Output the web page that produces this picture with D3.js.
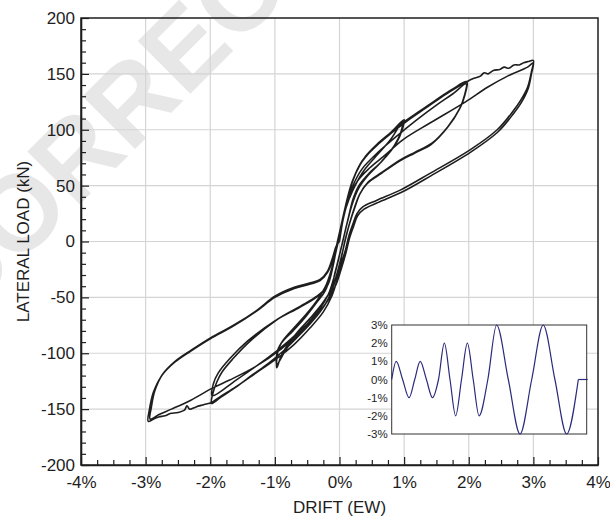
<!DOCTYPE html>
<html><head><meta charset="utf-8">
<script src="https://cdn.jsdelivr.net/npm/d3@7"></script>
<style>
html,body{margin:0;padding:0;background:#fff;}
svg{display:block;font-family:"Liberation Sans",Arial,Helvetica,sans-serif;}
</style></head><body>
<svg id="chart" width="610" height="520"></svg>
<script>
// ---------- DATA ----------
const xTicks = [-4,-3,-2,-1,0,1,2,3,4];            // drift (%)
const yTicks = [-200,-150,-100,-50,0,50,100,150,200]; // load (kN)
const insetTicks = [3,2,1,0,-1,-2,-3];              // drift (%)

// hysteresis half-cycles [drift %, load kN]
const toPlus1a = [[0,0],[0.04,15],[0.10,32],[0.17,48],[0.26,62],[0.40,76],[0.58,87],[0.80,98],[1.00,109]];
const toMinus1a = [[0.97,100],[0.88,88],[0.66,72],[0.44,60],[0.30,50],[0.21,38],[0.14,22],[0.07,5],[0.00,-12],[-0.07,-28],[-0.14,-44],[-0.30,-58],[-0.46,-69],[-0.62,-79],[-0.77,-90],[-0.90,-102],[-0.97,-113]];
const toPlus1b = [[-0.96,-100],[-0.90,-91],[-0.72,-80],[-0.52,-67],[-0.36,-55],[-0.22,-44],[-0.12,-26],[-0.05,-8],[0.02,10],[0.10,30],[0.20,45],[0.36,62],[0.56,76],[0.80,92],[0.98,108]];
const toMinus1b = [[0.95,98],[0.85,86],[0.64,71],[0.44,59],[0.30,48],[0.20,34],[0.12,17],[0.05,0],[-0.02,-17],[-0.09,-33],[-0.17,-47],[-0.30,-60],[-0.47,-72],[-0.65,-84],[-0.82,-96],[-0.97,-110]];
const toPlus2a = [[-0.96,-98],[-0.88,-89],[-0.70,-77],[-0.50,-64],[-0.34,-52],[-0.20,-38],[-0.10,-20],[-0.03,-2],[0.04,17],[0.11,36],[0.20,54],[0.35,72],[0.58,86],[0.80,97],[1.02,108],[1.25,117],[1.50,127],[1.74,136],[1.97,143]];
const toMinus2a = [[1.94,131],[1.87,120],[1.68,103],[1.43,88],[1.17,80],[0.94,73],[0.66,62],[0.44,53],[0.32,43],[0.24,31],[0.16,17],[0.10,4],[0.04,-11],[-0.03,-27],[-0.10,-40],[-0.18,-52],[-0.30,-63],[-0.46,-74],[-0.66,-86],[-0.87,-98],[-1.10,-109],[-1.34,-119],[-1.62,-131],[-1.85,-140],[-1.98,-145]];
const toPlus2b = [[-1.96,-136],[-1.90,-126],[-1.82,-117],[-1.65,-105],[-1.40,-90],[-0.97,-70],[-0.61,-58],[-0.35,-49],[-0.19,-40],[-0.10,-22],[-0.04,-4],[0.03,14],[0.10,31],[0.20,49],[0.35,65],[0.60,80],[0.90,95],[1.20,109],[1.50,122],[1.75,132],[1.96,141]];
const toMinus2b = [[1.93,130],[1.86,119],[1.67,102],[1.42,87],[1.16,79],[0.93,72],[0.65,61],[0.43,52],[0.31,42],[0.23,30],[0.15,15],[0.09,2],[0.03,-14],[-0.04,-30],[-0.12,-44],[-0.22,-56],[-0.40,-68],[-0.65,-82],[-0.95,-97],[-1.25,-110],[-1.60,-124],[-1.97,-138]];
const toPlus3a = [[-1.95,-127],[-1.88,-118],[-1.70,-105],[-1.42,-89],[-1.00,-71],[-0.62,-59],[-0.36,-50],[-0.20,-41],[-0.11,-23],[-0.05,-5],[0.02,13],[0.09,31],[0.18,50],[0.31,68],[0.52,83],[0.78,96],[1.05,108],[1.35,120],[1.65,132],[1.97,143],[2.08,146],[2.18,148],[2.24,151],[2.30,150],[2.38,153],[2.48,154],[2.55,156],[2.62,155],[2.70,158],[2.78,158],[2.85,160],[2.92,161],[3.00,162]];
const toMinus3a = [[2.97,152],[2.91,138],[2.80,126],[2.69,117],[2.44,100],[2.02,82],[1.40,61],[0.94,46],[0.58,37],[0.36,31],[0.27,25],[0.21,16],[0.15,6],[0.09,-8],[0.02,-21],[-0.04,-35],[-0.12,-49],[-0.25,-63],[-0.45,-77],[-0.70,-92],[-1.00,-106],[-1.30,-118],[-1.60,-130],[-1.85,-139],[-1.98,-144],[-2.10,-146],[-2.22,-148],[-2.32,-150],[-2.36,-147],[-2.40,-151],[-2.50,-153],[-2.62,-154],[-2.70,-156],[-2.80,-157],[-2.88,-159],[-2.96,-161]];
const toPlus3b = [[-2.94,-150],[-2.88,-135],[-2.75,-120],[-2.55,-108],[-2.30,-98],[-2.00,-87],[-1.65,-76],[-1.30,-63],[-1.00,-50],[-0.70,-42],[-0.45,-38],[-0.30,-35],[-0.19,-28],[-0.10,-16],[-0.03,0],[0.04,18],[0.13,37],[0.29,55],[0.47,66],[0.70,77],[0.98,91],[1.40,106],[1.95,125],[2.29,138],[2.60,148],[2.91,156],[3.00,160]];
const toMinus3b = [[2.97,150],[2.92,137],[2.81,124],[2.70,115],[2.45,98],[2.03,80],[1.42,59],[0.96,44],[0.60,35],[0.38,29],[0.28,23],[0.22,14],[0.16,4],[0.10,-10],[0.03,-24],[-0.05,-38],[-0.15,-50],[-0.30,-62],[-0.55,-78],[-0.90,-96],[-1.30,-112],[-1.70,-124],[-1.96,-131],[-2.30,-142],[-2.60,-150],[-2.80,-155],[-2.93,-159]];
const toEnd = [[-2.91,-148],[-2.86,-134],[-2.74,-119],[-2.54,-107],[-2.29,-97],[-1.99,-86],[-1.64,-75],[-1.29,-62],[-1.00,-49],[-0.70,-41],[-0.45,-37],[-0.30,-34],[-0.19,-27],[-0.11,-15],[-0.05,-4],[0.00,0]];

// inset loading protocol [time step, drift %]
const insetWave = [[0,0],[2.3,1],[5.6,0],[8.9,-1],[11.8,0],[14.6,1],[17.8,0],[20.9,-1],[24,0],[27,2],[29.9,0],[32.8,-2],[35.8,0],[38.8,2],[41.8,0],[44.8,-2],[49.3,0],[53.8,3],[59.8,0],[65.8,-3],[71.8,0],[77.7,3],[83.7,0],[89.7,-3],[95.7,0]];
const insetTail = [[95.7,0],[100.5,0]];

// ---------- CHART ----------
const svg = d3.select("#chart");
const m = {left:81, right:598, top:18, bottom:465};
const x = d3.scaleLinear().domain([-4,4]).range([m.left,m.right]);
const y = d3.scaleLinear().domain([-200,200]).range([m.bottom,m.top]);
const ink = "#1e1e1e";

// watermark
svg.append("text")
  .attr("transform","translate(-150,434) rotate(-45)")
  .attr("font-size",108).attr("font-weight","bold")
  .attr("fill","#e7e7e7").text("UNCORRECTED PROOF");

// grid
const grid = svg.append("g").attr("stroke","#d4d4d4").attr("stroke-width",1.2);
grid.selectAll("line.v").data(xTicks.filter(d=>d>-4&&d<4)).join("line")
  .attr("x1",d=>x(d)).attr("x2",d=>x(d)).attr("y1",m.top).attr("y2",m.bottom);
grid.selectAll("line.h").data(yTicks.filter(d=>d>-200&&d<200)).join("line")
  .attr("class","h").attr("y1",d=>y(d)).attr("y2",d=>y(d)).attr("x1",m.left).attr("x2",m.right);

// hysteresis curve
const hysteresis = [toPlus1a,toMinus1a,toPlus1b,toMinus1b,toPlus2a,toMinus2a,toPlus2b,toMinus2b,toPlus3a,toMinus3a,toPlus3b,toMinus3b,toEnd].flat();
const line = d3.line().x(d=>x(d[0])).y(d=>y(d[1])).curve(d3.curveCatmullRom.alpha(0.5));
svg.append("path").datum(hysteresis).attr("d",line)
  .attr("fill","none").attr("stroke",ink).attr("stroke-width",1.6).attr("stroke-linejoin","round");

// axes
const fs = 17;
const xMinor = d3.range(-4,4.001,0.25).filter(d=>Math.abs(d-Math.round(d))>1e-6);
const yMinor = d3.range(-200,201,10).filter(d=>d%50!==0);
const gxm = svg.append("g").attr("transform",`translate(0,${m.bottom})`)
  .call(d3.axisBottom(x).tickValues(xMinor).tickFormat("").tickSize(-5).tickSizeOuter(0));
gxm.select(".domain").remove();
const gym = svg.append("g").attr("transform",`translate(${m.left},0)`)
  .call(d3.axisLeft(y).tickValues(yMinor).tickFormat("").tickSize(-5).tickSizeOuter(0));
gym.select(".domain").remove();
const gx = svg.append("g").attr("transform",`translate(0,${m.bottom})`)
  .call(d3.axisBottom(x).tickValues(xTicks).tickFormat(d=>d+"%").tickSize(-8).tickPadding(11).tickSizeOuter(0));
const gy = svg.append("g").attr("transform",`translate(${m.left},0)`)
  .call(d3.axisLeft(y).tickValues(yTicks).tickFormat(d=>String(d)).tickSize(-8).tickPadding(6).tickSizeOuter(0));
[gx,gy,gxm,gym].forEach(g=>{
  g.attr("color",ink).attr("font-size",fs).attr("font-family","Liberation Sans, Arial, sans-serif");
  g.selectAll("line").attr("stroke-width",1.2);
});
[gx,gy].forEach(g=>g.select(".domain").attr("stroke-width",1.6));

// frame
svg.append("rect").attr("x",m.left).attr("y",m.top).attr("width",m.right-m.left).attr("height",m.bottom-m.top)
  .attr("fill","none").attr("stroke",ink).attr("stroke-width",1.5);

// titles
svg.append("text").attr("transform",`translate(29,${(m.top+m.bottom)/2}) rotate(-90)`)
  .attr("text-anchor","middle").attr("font-size",fs).attr("fill",ink).text("LATERAL LOAD (kN)");
svg.append("text").attr("x",x(0)).attr("y",513)
  .attr("text-anchor","middle").attr("font-size",fs).attr("fill",ink).text("DRIFT (EW)");

// inset
const ix = d3.scaleLinear().domain([0,100]).range([391.7,586.7]);
const iy = d3.scaleLinear().domain([-3,3]).range([434,325]);
svg.append("rect").attr("x",ix(0)).attr("y",iy(3)).attr("width",ix(100)-ix(0)).attr("height",iy(-3)-iy(3))
  .attr("fill","#fff").attr("stroke","#333").attr("stroke-width",1);
svg.append("g").selectAll("text").data(insetTicks).join("text")
  .attr("x",ix(0)-4).attr("y",d=>iy(d)).attr("dy","0.35em").attr("text-anchor","end")
  .attr("font-size",11.5).attr("fill",ink).text(d=>d+"%");
const iline = d3.line().x(d=>ix(d[0])).y(d=>iy(d[1])).curve(d3.curveMonotoneX);
svg.append("path").datum(insetWave).attr("d",iline).attr("fill","none").attr("stroke","#2a2a7c").attr("stroke-width",1.2);
svg.append("path").datum(insetTail).attr("d",d3.line().x(d=>ix(d[0])).y(d=>iy(d[1]))).attr("fill","none").attr("stroke","#2a2a7c").attr("stroke-width",1.2);
</script>
</body></html>
